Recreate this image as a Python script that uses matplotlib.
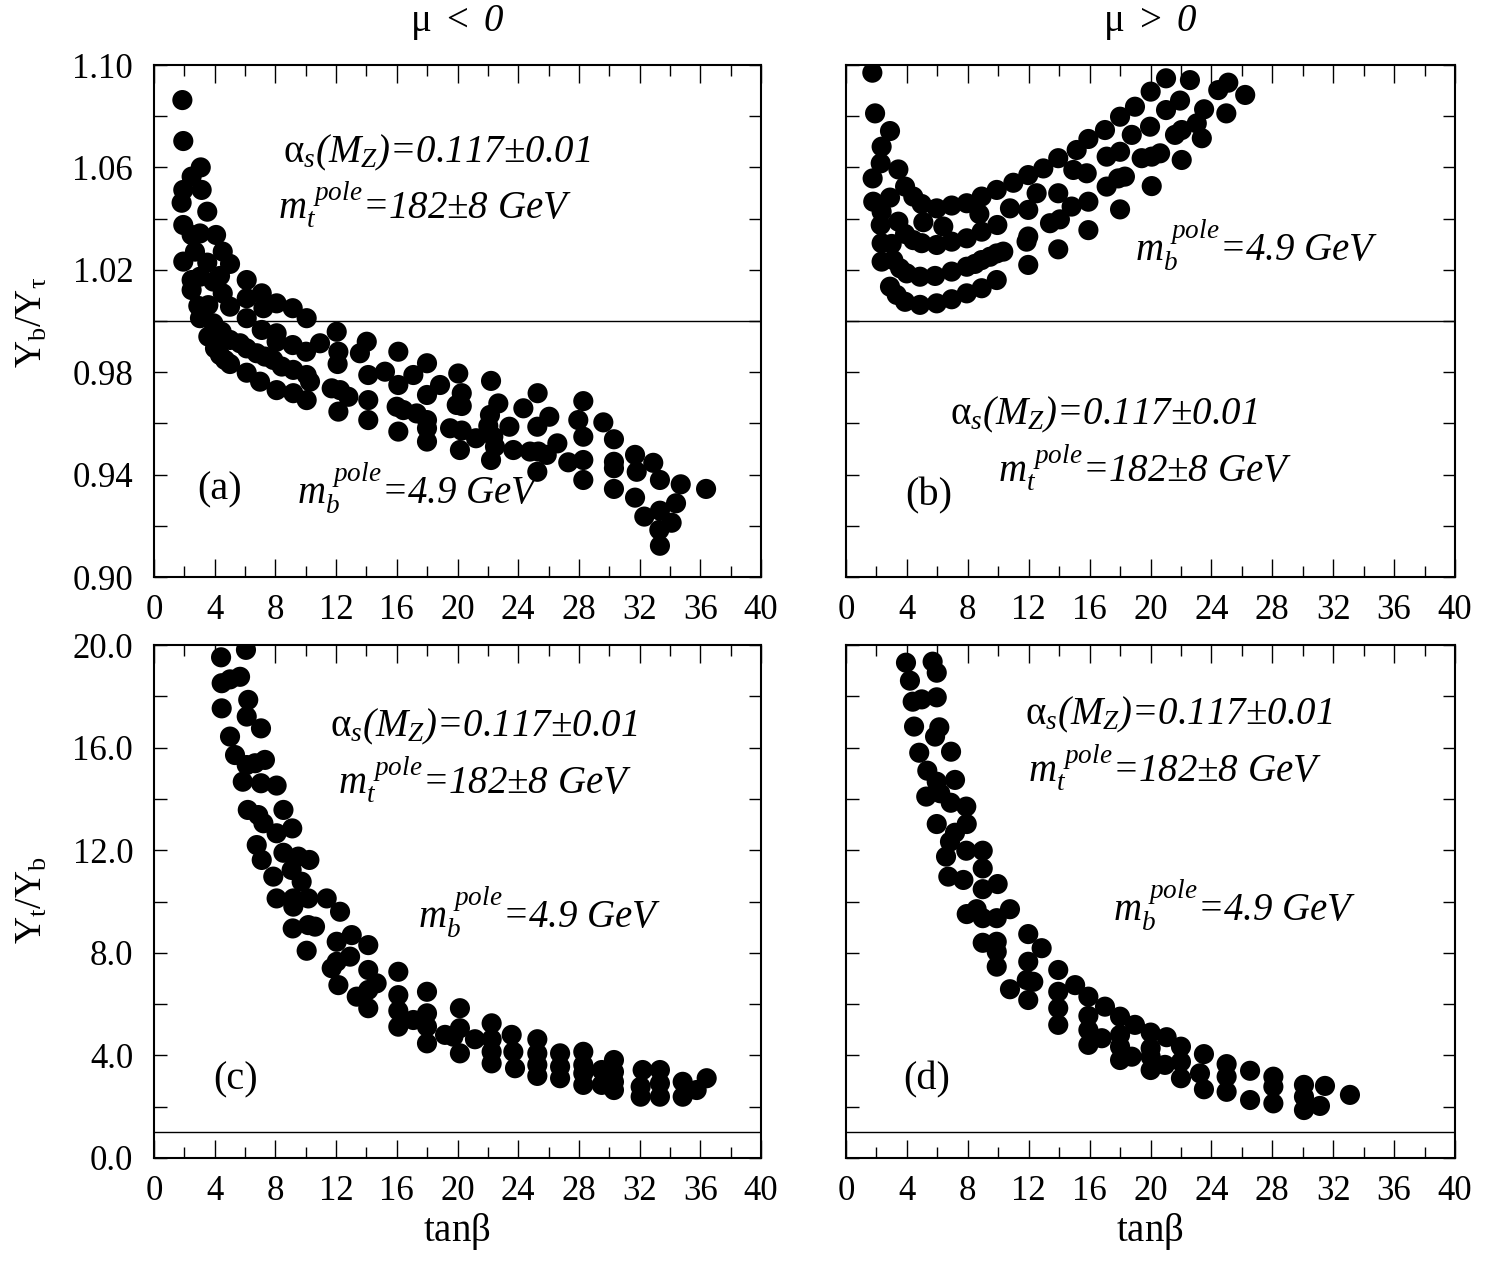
import numpy as np
import matplotlib
matplotlib.use("Agg")
from matplotlib import pyplot as plt

plt.rcParams['font.family'] = ['Liberation Serif', 'DejaVu Serif']
plt.rcParams['mathtext.fontset'] = 'custom'
plt.rcParams['mathtext.rm'] = 'Liberation Serif'
plt.rcParams['mathtext.it'] = 'Liberation Serif:italic'
plt.rcParams['mathtext.bf'] = 'Liberation Serif:bold'

# axis ticks
xticks = [0, 4, 8, 12, 16, 20, 24, 28, 32, 36, 40]
xminor = [2, 6, 10, 14, 18, 22, 26, 30, 34, 38]
yticks_top = [0.90, 0.94, 0.98, 1.02, 1.06, 1.10]
yminor_top = [0.92, 0.96, 1.00, 1.04, 1.08]
yticks_bot = [0.0, 4.0, 8.0, 12.0, 16.0, 20.0]
yminor_bot = [2.0, 6.0, 10.0, 14.0, 18.0]

# (a) Y_b/Y_tau, mu < 0
pts_a = [(1.87, 1.0863), (1.93, 1.0703), (3.08, 1.0600), (2.48, 1.0564), (1.93, 1.0512),
         (3.14, 1.0512), (1.82, 1.0462), (3.51, 1.0427), (1.93, 1.0375), (2.48, 1.0336),
         (3.03, 1.0342), (4.09, 1.0336), (2.70, 1.0271), (4.53, 1.0271), (1.93, 1.0232),
         (3.51, 1.0228), (5.01, 1.0223), (4.35, 1.0176), (2.48, 1.0160), (3.03, 1.0173),
         (6.11, 1.0160), (3.91, 1.0154), (2.48, 1.0121), (4.53, 1.0108), (7.10, 1.0108),
         (6.11, 1.0089), (8.08, 1.0069), (5.01, 1.0056), (2.92, 1.0059), (3.58, 1.0062),
         (7.21, 1.0050), (9.14, 1.0050), (3.03, 1.0011), (10.06, 1.0011), (6.11, 1.0011),
         (3.91, 0.9991), (4.46, 0.9958), (7.10, 0.9965), (8.08, 0.9952), (12.04, 0.9958),
         (3.58, 0.9939), (5.01, 0.9926), (5.67, 0.9913), (14.02, 0.9919), (9.14, 0.9906),
         (8.08, 0.9919), (10.94, 0.9913), (4.02, 0.9893), (6.11, 0.9893), (12.15, 0.9880),
         (10.02, 0.9880), (13.57, 0.9874), (16.10, 0.9880), (4.35, 0.9867), (6.77, 0.9874),
         (7.31, 0.9861), (4.68, 0.9848), (7.86, 0.9848), (5.01, 0.9832), (12.10, 0.9832),
         (17.99, 0.9835), (8.42, 0.9822), (9.18, 0.9809), (6.11, 0.9798), (10.06, 0.9789),
         (14.12, 0.9789), (15.22, 0.9802), (17.09, 0.9789), (20.05, 0.9795), (6.99, 0.9763),
         (10.28, 0.9763), (16.10, 0.9750), (18.85, 0.9750), (8.08, 0.9730), (11.71, 0.9737),
         (12.26, 0.9730), (9.18, 0.9718), (12.81, 0.9704), (17.99, 0.9711), (19.95, 0.9672),
         (10.06, 0.9691), (14.12, 0.9691), (15.99, 0.9665), (16.43, 0.9652), (12.15, 0.9646),
         (17.31, 0.9639), (17.99, 0.9613), (14.12, 0.9613), (19.51, 0.9581), (17.99, 0.9581),
         (16.10, 0.9568), (17.99, 0.9529), (20.16, 0.9496), (20.28, 0.9718), (20.28, 0.9668),
         (20.28, 0.9572), (21.22, 0.9542), (22.21, 0.9766), (22.69, 0.9678), (22.14, 0.9633),
         (22.03, 0.9590), (22.36, 0.9548), (22.47, 0.9509), (22.21, 0.9457), (23.42, 0.9587),
         (23.68, 0.9496), (24.34, 0.9659), (24.78, 0.9490), (25.28, 0.9718), (25.26, 0.9587),
         (25.33, 0.9490), (25.88, 0.9477), (25.26, 0.9411), (26.05, 0.9626), (26.58, 0.9522),
         (27.30, 0.9448), (28.29, 0.9687), (27.96, 0.9613), (28.29, 0.9548), (28.29, 0.9457),
         (28.29, 0.9379), (29.61, 0.9604), (30.31, 0.9538), (30.31, 0.9450), (30.31, 0.9425),
         (30.31, 0.9344), (31.70, 0.9477), (31.81, 0.9411), (31.70, 0.9310), (32.90, 0.9446),
         (33.34, 0.9379), (33.34, 0.9259), (32.31, 0.9236), (33.30, 0.9184), (33.34, 0.9122),
         (34.11, 0.9212), (34.40, 0.9288), (34.71, 0.9362), (36.38, 0.9344)]

# (b) Y_b/Y_tau, mu > 0
pts_b = [(1.73, 1.0970), (1.91, 1.0811), (2.89, 1.0742), (2.34, 1.0681), (2.28, 1.0616),
         (3.44, 1.0592), (1.75, 1.0557), (3.88, 1.0525), (4.42, 1.0486), (4.97, 1.0457),
         (5.96, 1.0440), (6.94, 1.0451), (7.93, 1.0460), (8.91, 1.0486), (9.90, 1.0512),
         (10.99, 1.0540), (11.97, 1.0570), (12.96, 1.0596), (13.94, 1.0636), (15.15, 1.0668),
         (15.92, 1.0711), (17.01, 1.0746), (18.00, 1.0798), (18.98, 1.0837), (20.01, 1.0896),
         (21.02, 1.0948), (22.59, 1.0941), (24.45, 1.0902), (25.11, 1.0931), (26.22, 1.0883),
         (1.79, 1.0466), (2.89, 1.0482), (2.34, 1.0427), (2.28, 1.0375), (3.44, 1.0388),
         (5.08, 1.0386), (6.39, 1.0369), (3.88, 1.0340), (4.42, 1.0316), (4.97, 1.0304),
         (5.96, 1.0297), (6.94, 1.0310), (7.93, 1.0323), (8.91, 1.0349), (8.76, 1.0418),
         (9.94, 1.0375), (10.77, 1.0440), (11.97, 1.0434), (12.52, 1.0499), (13.94, 1.0499),
         (14.93, 1.0590), (15.81, 1.0577), (17.12, 1.0642), (18.00, 1.0661), (18.77, 1.0727),
         (19.97, 1.0759), (21.02, 1.0824), (21.94, 1.0861), (23.52, 1.0827), (24.98, 1.0811),
         (15.92, 1.0466), (14.82, 1.0447), (14.05, 1.0397), (13.40, 1.0382), (11.97, 1.0330),
         (11.86, 1.0310), (17.12, 1.0525), (17.88, 1.0557), (18.32, 1.0564), (19.42, 1.0636),
         (20.08, 1.0642), (20.63, 1.0655), (21.61, 1.0727), (22.05, 1.0746), (23.04, 1.0772),
         (23.37, 1.0714), (22.05, 1.0629), (20.08, 1.0527), (18.00, 1.0436), (15.92, 1.0355),
         (13.94, 1.0280), (11.97, 1.0219), (2.34, 1.0304), (3.00, 1.0301), (2.34, 1.0232),
         (3.11, 1.0238), (3.55, 1.0206), (3.99, 1.0186), (4.86, 1.0173), (5.85, 1.0176),
         (6.94, 1.0193), (7.93, 1.0212), (8.47, 1.0223), (8.91, 1.0238), (9.46, 1.0251),
         (9.90, 1.0264), (10.33, 1.0271), (2.89, 1.0134), (3.33, 1.0102), (3.88, 1.0075),
         (4.86, 1.0063), (5.96, 1.0069), (6.94, 1.0085), (7.93, 1.0108), (8.91, 1.0128),
         (9.90, 1.0160)]

# (c) Y_t/Y_b, mu < 0
pts_c = [(4.42, 19.52), (6.06, 19.81), (4.46, 18.51), (5.01, 18.66), (5.67, 18.76),
         (6.21, 17.86), (4.46, 17.53), (6.11, 17.21), (7.05, 16.75), (5.01, 16.43),
         (5.34, 15.71), (6.11, 15.32), (6.66, 15.39), (7.31, 15.52), (5.85, 14.67),
         (7.05, 14.61), (8.08, 14.52), (6.18, 13.57), (6.87, 13.37), (7.21, 13.05),
         (8.53, 13.57), (8.08, 12.66), (9.11, 12.85), (6.77, 12.20), (7.10, 11.62),
         (8.53, 11.90), (9.51, 11.75), (10.24, 11.62), (9.07, 11.23), (7.86, 10.97),
         (9.73, 10.77), (8.08, 10.12), (9.18, 10.12), (9.18, 9.80), (10.17, 10.12),
         (11.38, 10.12), (12.26, 9.60), (9.14, 8.95), (10.17, 9.08), (10.61, 9.02),
         (10.06, 8.08), (12.04, 8.43), (13.03, 8.69), (14.12, 8.30), (12.92, 7.85),
         (12.04, 7.65), (11.71, 7.40), (14.12, 7.33), (14.67, 6.81), (14.12, 6.55),
         (12.15, 6.74), (13.36, 6.29), (14.12, 5.84), (16.10, 7.26), (16.10, 6.35),
         (16.10, 5.74), (17.09, 5.38), (16.10, 5.12), (17.99, 6.48), (17.99, 5.64),
         (17.99, 5.12), (17.99, 4.47), (19.18, 4.80), (20.16, 5.84), (20.16, 5.06),
         (20.16, 4.08), (19.73, 4.73), (21.15, 4.63), (22.25, 5.25), (22.25, 4.63),
         (22.25, 4.14), (22.25, 3.69), (23.57, 4.80), (23.68, 4.14), (23.79, 3.50),
         (25.26, 4.63), (25.26, 4.08), (25.26, 3.63), (25.26, 3.20), (26.76, 4.08),
         (26.76, 3.56), (26.76, 3.11), (28.29, 4.14), (28.29, 3.63), (28.29, 3.30),
         (28.29, 2.85), (29.50, 3.43), (29.50, 2.85), (30.31, 3.82), (30.31, 3.36),
         (30.31, 2.97), (30.31, 2.65), (32.20, 3.43), (32.07, 2.78), (32.07, 2.39),
         (33.34, 3.43), (33.34, 2.91), (33.34, 2.39), (34.84, 2.97), (34.84, 2.39),
         (35.76, 2.65), (36.42, 3.11)]

# (d) Y_t/Y_b, mu > 0
pts_d = [(3.94, 19.31), (5.69, 19.35), (5.96, 18.92), (4.20, 18.61), (4.38, 17.79),
         (4.97, 17.88), (5.96, 17.96), (4.47, 16.82), (6.13, 16.79), (5.85, 16.43),
         (4.81, 15.80), (6.90, 15.84), (5.34, 15.10), (5.96, 14.67), (7.16, 14.74),
         (5.27, 14.09), (6.19, 14.22), (6.88, 13.85), (7.90, 13.70), (5.96, 13.02),
         (7.16, 12.68), (7.93, 13.02), (6.83, 12.33), (6.57, 11.75), (7.90, 11.98),
         (8.98, 11.98), (8.98, 11.29), (6.72, 10.97), (7.71, 10.84), (8.98, 10.48),
         (9.96, 10.68), (7.93, 9.51), (8.58, 9.70), (8.98, 9.35), (9.90, 9.35),
         (10.77, 9.70), (8.98, 8.39), (9.90, 8.43), (9.90, 8.04), (9.90, 7.46),
         (11.97, 8.73), (12.85, 8.18), (11.97, 7.65), (11.87, 6.94), (12.30, 6.87),
         (10.77, 6.58), (11.97, 6.16), (13.94, 7.33), (13.94, 6.48), (13.94, 5.84),
         (13.94, 5.19), (15.05, 6.74), (15.92, 6.29), (15.92, 5.54), (15.92, 4.99),
         (15.92, 4.41), (16.80, 4.67), (17.01, 5.90), (18.00, 5.51), (18.00, 4.80),
         (18.00, 4.34), (18.00, 3.82), (18.77, 3.95), (18.98, 5.19), (20.01, 4.89),
         (20.01, 4.28), (20.01, 3.95), (20.01, 3.43), (21.06, 4.71), (20.95, 3.63),
         (22.00, 4.34), (22.00, 3.75), (22.00, 3.11), (23.51, 4.05), (23.25, 3.30),
         (23.51, 2.68), (25.00, 3.66), (25.00, 3.17), (25.00, 2.58), (26.54, 3.40),
         (26.54, 2.26), (28.07, 3.17), (28.07, 2.78), (28.07, 2.13), (30.08, 2.85),
         (30.08, 2.39), (30.08, 1.87), (31.46, 2.81), (31.13, 2.03), (33.10, 2.46)]

alpha_txt = r"$\mathrm{\alpha}_{s}$($M_{Z}$)=0.117±0.01"
mt_txt = r"$m_{t}^{\ pole}$=182±8 GeV"
mb_txt = r"$m_{b}^{\ pole}$=4.9 GeV"

W, H = 1504, 1262
fig = plt.figure(figsize=(W / 100, H / 100), dpi=100)


def px_axes(left, top, right, bottom):
    return fig.add_axes([left / W, 1 - bottom / H, (right - left) / W, (bottom - top) / H])


def style(ax, top_panel, show_ylab):
    ax.set_xlim(0, 40)
    ax.set_xticks(xticks)
    ax.set_xticks(xminor, minor=True)
    if top_panel:
        ax.set_ylim(0.90, 1.10)
        ax.set_yticks(yticks_top, ["%.2f" % v for v in yticks_top])
        ax.set_yticks(yminor_top, minor=True)
    else:
        ax.set_ylim(0, 20)
        ax.set_yticks(yticks_bot, ["%.1f" % v for v in yticks_bot])
        ax.set_yticks(yminor_bot, minor=True)
    ax.tick_params(which='both', direction='in', top=True, right=True,
                   labelsize=25, width=1.0)
    ax.tick_params(axis='x', which='major', length=13, pad=12)
    ax.tick_params(axis='x', which='minor', length=8)
    ax.tick_params(axis='y', which='both', length=9, pad=15)
    if not show_ylab:
        ax.tick_params(axis='y', labelleft=False)
    for s in ax.spines.values():
        s.set_linewidth(1.5)
    ax.axhline(1.0, color='black', lw=1.0, zorder=1)


axes = {
    'a': px_axes(154, 65, 761, 577),
    'b': px_axes(846, 65, 1455, 577),
    'c': px_axes(154, 645, 761, 1158),
    'd': px_axes(846, 645, 1455, 1158),
}
data = {'a': pts_a, 'b': pts_b, 'c': pts_c, 'd': pts_d}

for key, ax in axes.items():
    style(ax, key in 'ab', key in 'ac')
    x, y = np.array(data[key]).T
    ax.scatter(x, y, s=210, color='black', edgecolors='none', zorder=3)

tsize = 28


def put(xp, yp, txt, size=tsize, style='italic'):
    # positions given in figure pixels
    fig.text(xp / W, 1 - yp / H, txt, fontsize=size, fontstyle=style,
             ha='left', va='center')


put(283, 153, alpha_txt)
put(278, 205, mt_txt)
put(197, 490, "(a)", 29, 'normal')
put(297, 488, mb_txt)

put(1135, 245, mb_txt)
put(950, 415, alpha_txt)
put(998, 468, mt_txt)
put(905, 496, "(b)", 29, 'normal')

put(330, 727, alpha_txt)
put(338, 780, mt_txt)
put(418, 912, mb_txt)
put(213, 1080, "(c)", 29, 'normal')

put(1025, 715, alpha_txt)
put(1028, 768, mt_txt)
put(1113, 905, mb_txt)
put(903, 1080, "(d)", 29, 'normal')

fig.text(457 / W, 1 - 22 / H, r"$\mathrm{\mu}$ $\mathrm{<}$ 0", fontsize=28, fontstyle='italic',
         ha='center', va='center')
fig.text(1150 / W, 1 - 22 / H, r"$\mathrm{\mu}$ $\mathrm{>}$ 0", fontsize=28, fontstyle='italic',
         ha='center', va='center')

fig.text(32 / W, 1 - 322 / H, r"$\mathrm{Y_{b}/Y_{\tau}}$", fontsize=27, rotation=90,
         ha='center', va='center')
fig.text(32 / W, 1 - 900 / H, r"$\mathrm{Y_{t}/Y_{b}}$", fontsize=27, rotation=90,
         ha='center', va='center')
fig.text(457 / W, 1 - 1232 / H, r"tan$\mathrm{\beta}$", fontsize=28, ha='center', va='center')
fig.text(1150 / W, 1 - 1232 / H, r"tan$\mathrm{\beta}$", fontsize=28, ha='center', va='center')

fig.savefig("out.png", dpi=100)
